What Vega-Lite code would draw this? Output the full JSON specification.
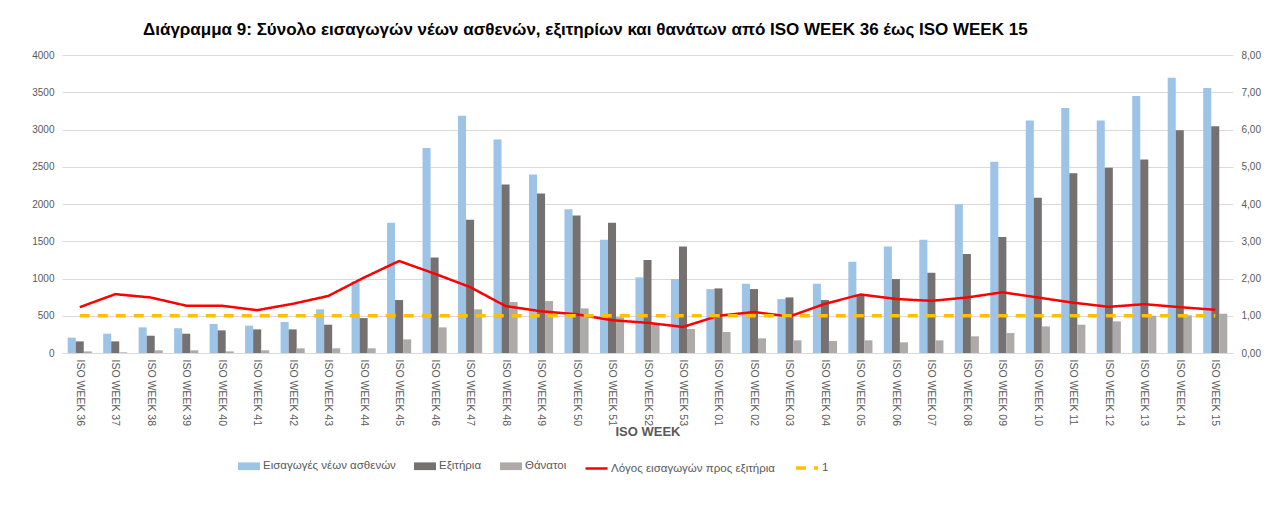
{
  "$schema": "https://vega.github.io/schema/vega-lite/v6.json",
  "width": 1171,
  "height": 298,
  "autosize": {"type": "none"},
  "padding": {"left": 62, "top": 55, "right": 53, "bottom": 169},
  "background": "white",
  "title": {
    "text": "Διάγραμμα 9: Σύνολο εισαγωγών νέων ασθενών, εξιτηρίων και θανάτων από ISO WEEK 36 έως ISO WEEK 15",
    "anchor": "start",
    "frame": "group",
    "dx": 81,
    "dy": 3,
    "fontSize": 17,
    "fontWeight": "bold",
    "color": "#000000",
    "offset": 14
  },
  "data": {
    "values": [
      {"wk": "ISO WEEK 36", "adm": 206, "dis": 156, "dth": 22, "ratio": 1.23, "one": 1},
      {"wk": "ISO WEEK 37", "adm": 259, "dis": 156, "dth": 9, "ratio": 1.58, "one": 1},
      {"wk": "ISO WEEK 38", "adm": 344, "dis": 232, "dth": 36, "ratio": 1.49, "one": 1},
      {"wk": "ISO WEEK 39", "adm": 331, "dis": 259, "dth": 36, "ratio": 1.27, "one": 1},
      {"wk": "ISO WEEK 40", "adm": 389, "dis": 304, "dth": 22, "ratio": 1.27, "one": 1},
      {"wk": "ISO WEEK 41", "adm": 367, "dis": 317, "dth": 36, "ratio": 1.15, "one": 1},
      {"wk": "ISO WEEK 42", "adm": 416, "dis": 317, "dth": 63, "ratio": 1.32, "one": 1},
      {"wk": "ISO WEEK 43", "adm": 586, "dis": 380, "dth": 63, "ratio": 1.53, "one": 1},
      {"wk": "ISO WEEK 44", "adm": 960, "dis": 469, "dth": 63, "ratio": 2.02, "one": 1},
      {"wk": "ISO WEEK 45", "adm": 1748, "dis": 711, "dth": 183, "ratio": 2.47, "one": 1},
      {"wk": "ISO WEEK 46", "adm": 2753, "dis": 1283, "dth": 344, "ratio": 2.13, "one": 1},
      {"wk": "ISO WEEK 47", "adm": 3183, "dis": 1788, "dth": 586, "ratio": 1.77, "one": 1},
      {"wk": "ISO WEEK 48", "adm": 2865, "dis": 2262, "dth": 684, "ratio": 1.26, "one": 1},
      {"wk": "ISO WEEK 49", "adm": 2396, "dis": 2141, "dth": 697, "ratio": 1.12, "one": 1},
      {"wk": "ISO WEEK 50", "adm": 1931, "dis": 1846, "dth": 599, "ratio": 1.04, "one": 1},
      {"wk": "ISO WEEK 51", "adm": 1520, "dis": 1748, "dth": 480, "ratio": 0.88, "one": 1},
      {"wk": "ISO WEEK 52", "adm": 1015, "dis": 1247, "dth": 400, "ratio": 0.81, "one": 1},
      {"wk": "ISO WEEK 53", "adm": 992, "dis": 1430, "dth": 322, "ratio": 0.70, "one": 1},
      {"wk": "ISO WEEK 01", "adm": 858, "dis": 867, "dth": 282, "ratio": 1.00, "one": 1},
      {"wk": "ISO WEEK 02", "adm": 930, "dis": 858, "dth": 197, "ratio": 1.10, "one": 1},
      {"wk": "ISO WEEK 03", "adm": 724, "dis": 746, "dth": 170, "ratio": 0.98, "one": 1},
      {"wk": "ISO WEEK 04", "adm": 930, "dis": 711, "dth": 161, "ratio": 1.32, "one": 1},
      {"wk": "ISO WEEK 05", "adm": 1225, "dis": 780, "dth": 170, "ratio": 1.57, "one": 1},
      {"wk": "ISO WEEK 06", "adm": 1430, "dis": 992, "dth": 143, "ratio": 1.45, "one": 1},
      {"wk": "ISO WEEK 07", "adm": 1520, "dis": 1077, "dth": 170, "ratio": 1.40, "one": 1},
      {"wk": "ISO WEEK 08", "adm": 1998, "dis": 1328, "dth": 224, "ratio": 1.49, "one": 1},
      {"wk": "ISO WEEK 09", "adm": 2566, "dis": 1556, "dth": 268, "ratio": 1.63, "one": 1},
      {"wk": "ISO WEEK 10", "adm": 3120, "dis": 2083, "dth": 357, "ratio": 1.49, "one": 1},
      {"wk": "ISO WEEK 11", "adm": 3290, "dis": 2414, "dth": 380, "ratio": 1.35, "one": 1},
      {"wk": "ISO WEEK 12", "adm": 3120, "dis": 2485, "dth": 425, "ratio": 1.24, "one": 1},
      {"wk": "ISO WEEK 13", "adm": 3451, "dis": 2597, "dth": 500, "ratio": 1.31, "one": 1},
      {"wk": "ISO WEEK 14", "adm": 3693, "dis": 2990, "dth": 505, "ratio": 1.23, "one": 1},
      {"wk": "ISO WEEK 15", "adm": 3558, "dis": 3044, "dth": 527, "ratio": 1.16, "one": 1}
    ]
  },
  "layer": [
    {
      "transform": [{"fold": ["adm", "dis", "dth"], "as": ["bseries", "bval"]}],
      "mark": {"type": "bar"},
      "encoding": {
        "x": {
          "field": "wk",
          "type": "nominal",
          "sort": null,
          "scale": {"paddingInner": 0.32, "paddingOuter": 0.16},
          "axis": {
            "labelAngle": 90,
            "labelColor": "#595959",
            "labelFontSize": 10.5,
            "labelPadding": 6,
            "ticks": false,
            "domainColor": "#d9d9d9",
            "title": "ISO WEEK",
            "titleColor": "#595959",
            "titleFontSize": 13,
            "titleFontWeight": "bold",
            "titlePadding": 0
          }
        },
        "xOffset": {
          "field": "bseries",
          "type": "nominal",
          "sort": ["adm", "dis", "dth"],
          "scale": {"paddingInner": 0, "paddingOuter": 0}
        },
        "y": {
          "field": "bval",
          "type": "quantitative",
          "scale": {"domain": [0, 4000]},
          "axis": {
            "values": [0, 500, 1000, 1500, 2000, 2500, 3000, 3500, 4000],
            "format": "d",
            "title": null,
            "domain": false,
            "ticks": false,
            "labelColor": "#595959",
            "labelFontSize": 10,
            "labelPadding": 8,
            "gridColor": "#d9d9d9"
          }
        },
        "fill": {
          "field": "bseries",
          "type": "nominal",
          "scale": {"domain": ["adm", "dis", "dth"], "range": ["#9DC3E6", "#767171", "#AEAAAA"]},
          "legend": {
            "orient": "none",
            "legendX": 176,
            "legendY": 400,
            "direction": "horizontal",
            "title": null,
            "symbolType": "M-1,-0.35H1V0.35H-1Z",
            "symbolSize": 484,
            "symbolStrokeWidth": 0,
            "labelOffset": 3,
            "columnPadding": 18,
            "labelFontSize": 11.5,
            "labelLimit": 400,
            "labelColor": "#595959",
            "labelExpr": "datum.label == 'adm' ? 'Εισαγωγές νέων ασθενών' : datum.label == 'dis' ? 'Εξιτήρια' : 'Θάνατοι'"
          }
        }
      }
    },
    {
      "transform": [{"fold": ["ratio", "one"], "as": ["lseries", "lval"]}],
      "mark": {"type": "line"},
      "encoding": {
        "x": {"field": "wk", "type": "nominal", "sort": null},
        "y": {
          "field": "lval",
          "type": "quantitative",
          "scale": {"domain": [0, 8]},
          "axis": {
            "orient": "right",
            "values": [0, 1, 2, 3, 4, 5, 6, 7, 8],
            "labelExpr": "replace(format(datum.value, '.2f'), '.', ',')",
            "title": null,
            "domain": false,
            "ticks": false,
            "grid": false,
            "labelColor": "#595959",
            "labelFontSize": 10,
            "labelPadding": 8
          }
        },
        "stroke": {
          "field": "lseries",
          "type": "nominal",
          "scale": {"domain": ["ratio", "one"], "range": ["#FF0000", "#FFC000"]},
          "legend": {
            "orient": "none",
            "legendX": 522,
            "legendY": 400,
            "direction": "horizontal",
            "title": null,
            "symbolType": "stroke",
            "symbolSize": 484,
            "symbolStrokeWidth": 3,
            "labelOffset": 2,
            "columnPadding": 14,
            "labelFontSize": 11.5,
            "labelLimit": 400,
            "labelColor": "#595959",
            "labelExpr": "datum.label == 'ratio' ? 'Λόγος εισαγωγών προς εξιτήρια' : '1'"
          }
        },
        "strokeDash": {
          "field": "lseries",
          "type": "nominal",
          "scale": {"domain": ["ratio", "one"], "range": [[1, 0], [10, 8]]},
          "legend": {
            "orient": "none",
            "legendX": 522,
            "legendY": 400,
            "direction": "horizontal",
            "title": null,
            "symbolType": "stroke",
            "symbolSize": 484,
            "symbolStrokeWidth": 3,
            "labelOffset": 2,
            "columnPadding": 14,
            "labelFontSize": 11.5,
            "labelLimit": 400,
            "labelColor": "#595959",
            "labelExpr": "datum.label == 'ratio' ? 'Λόγος εισαγωγών προς εξιτήρια' : '1'"
          }
        },
        "strokeWidth": {
          "field": "lseries",
          "type": "nominal",
          "scale": {"domain": ["ratio", "one"], "range": [2.5, 3.5]},
          "legend": null
        }
      }
    }
  ],
  "resolve": {"scale": {"y": "independent"}},
  "config": {
    "font": "Liberation Sans, sans-serif",
    "view": {"stroke": null}
  }
}
